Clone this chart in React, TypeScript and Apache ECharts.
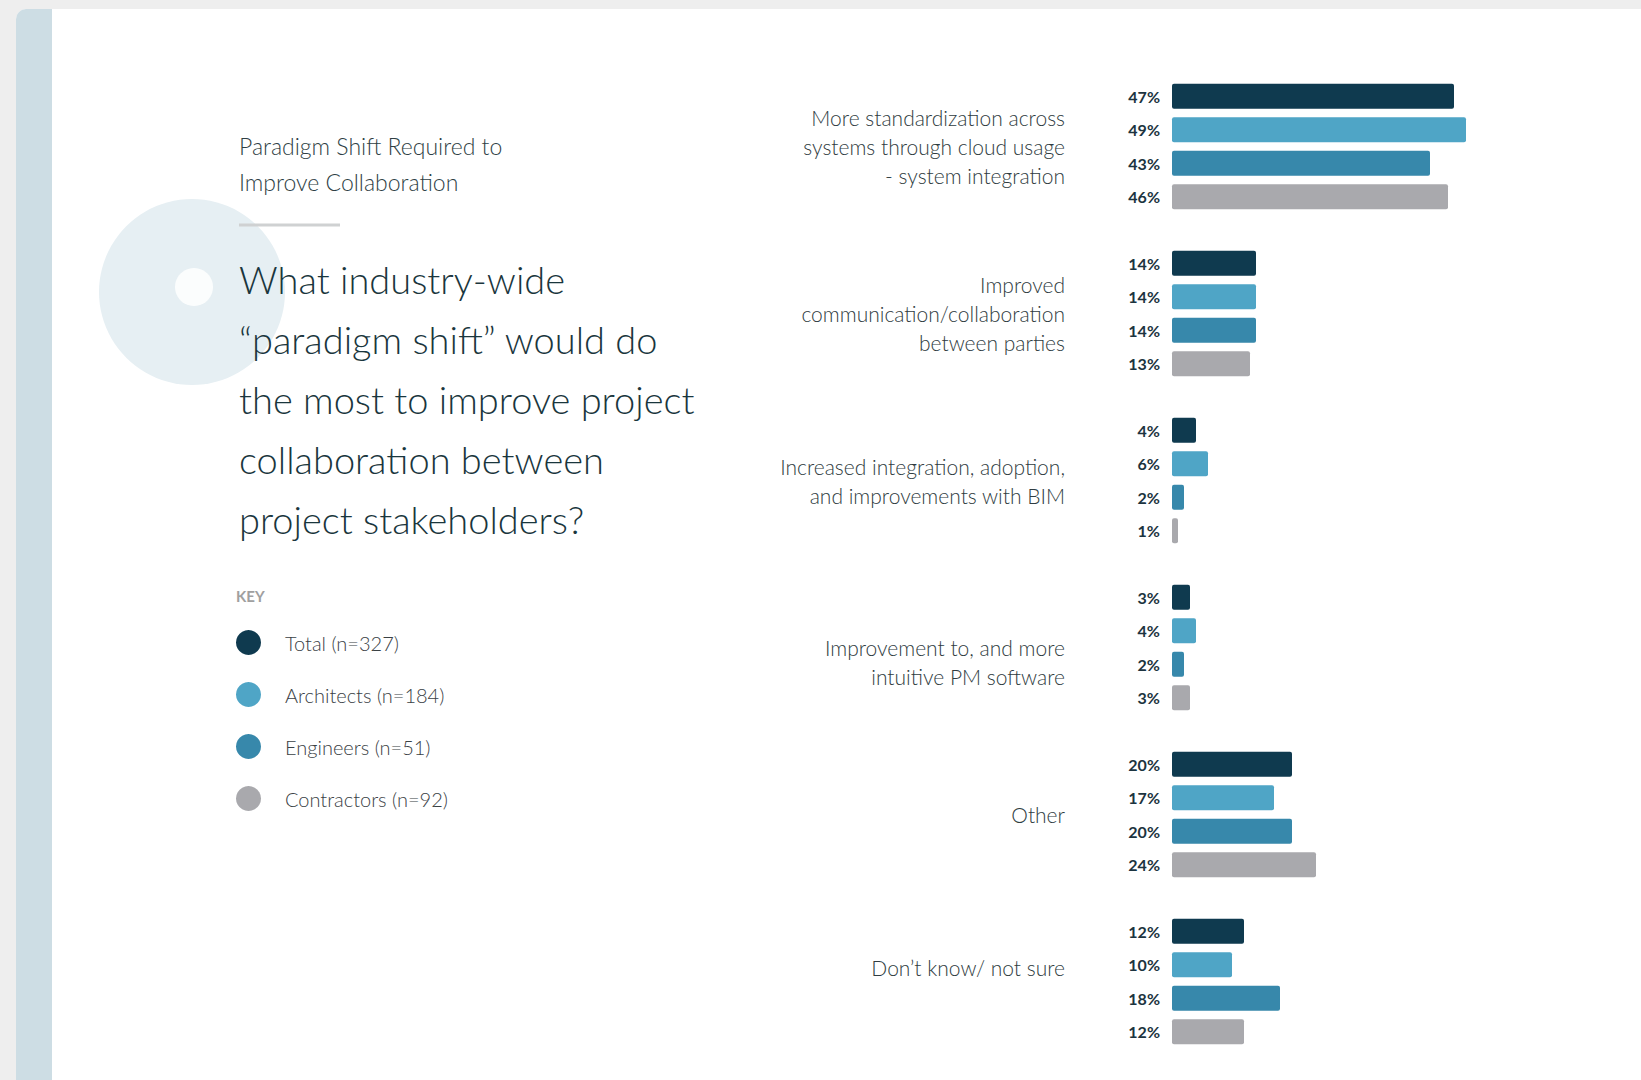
import React, { useEffect, useRef } from "react";
import * as echarts from "echarts";

const categories = [
  "More standardization across\nsystems through cloud usage\n- system integration",
  "Improved\ncommunication/collaboration\nbetween parties",
  "Increased integration, adoption,\nand improvements with BIM",
  "Improvement to, and more\nintuitive PM software",
  "Other",
  "Don’t know/ not sure",
];

const seriesNames = [
  "Total (n=327)",
  "Architects (n=184)",
  "Engineers (n=51)",
  "Contractors (n=92)",
];

const totalValues = [47, 14, 4, 3, 20, 12];
const architectValues = [49, 14, 6, 4, 17, 10];
const engineerValues = [43, 14, 2, 2, 20, 18];
const contractorValues = [46, 13, 1, 3, 24, 12];

const seriesColors = ["#0f3a4f", "#4fa5c6", "#3788ab", "#a9a9ad"];

const subtitleText = "Paradigm Shift Required to\nImprove Collaboration";
const questionText =
  "What industry-wide\n“paradigm shift” would do\nthe most to improve project\ncollaboration between\nproject stakeholders?";

const FONT = "Lato, 'Open Sans', sans-serif";

export default function App() {
  const ref = useRef<HTMLDivElement>(null);

  useEffect(() => {
    if (!ref.current) return;
    const chart = echarts.init(ref.current, undefined, { renderer: "svg" });
    const allValues = [totalValues, architectValues, engineerValues, contractorValues];

    chart.setOption({
      animation: false,
      backgroundColor: "#eeeeee",
      textStyle: { fontFamily: FONT },
      graphic: [
        {
          type: "rect",
          z: -10,
          shape: { x: 16, y: 9, width: 1700, height: 1200, r: 10 },
          style: { fill: "#ffffff" },
        },
        {
          type: "rect",
          z: -9,
          shape: { x: 16, y: 9, width: 36, height: 1200, r: [10, 0, 0, 0] },
          style: { fill: "#cddde4" },
        },
        {
          type: "circle",
          z: -8,
          shape: { cx: 192, cy: 292, r: 93 },
          style: { fill: "#e6eff3" },
        },
        {
          type: "circle",
          z: -7,
          shape: { cx: 194, cy: 287, r: 19 },
          style: { fill: "#fbfdfd" },
        },
        {
          type: "text",
          z: 5,
          x: 239,
          y: 128,
          style: {
            text: subtitleText,
            fontFamily: FONT,
            fontSize: 23,
            fontWeight: 300,
            lineHeight: 36,
            fill: "#2f3f45",
            verticalAlign: "top",
          },
        },
        {
          type: "line",
          z: 5,
          shape: { x1: 239, y1: 225, x2: 340, y2: 225 },
          style: { stroke: "#cfd1d2", lineWidth: 3 },
        },
        {
          type: "text",
          z: 5,
          x: 239,
          y: 249,
          style: {
            text: questionText,
            fontFamily: FONT,
            fontSize: 38,
            fontWeight: 300,
            lineHeight: 60,
            fill: "#1a363d",
            verticalAlign: "top",
          },
        },
        {
          type: "text",
          z: 5,
          x: 236,
          y: 596,
          style: {
            text: "KEY",
            fontFamily: FONT,
            fontSize: 15,
            fontWeight: "bold",
            fill: "#a0a0a0",
            verticalAlign: "middle",
          },
        },
      ],
      legend: {
        orient: "vertical",
        left: 231,
        top: 625,
        icon: "circle",
        itemWidth: 25,
        itemHeight: 25,
        itemGap: 27,
        selectedMode: false,
        data: seriesNames,
        textStyle: {
          fontFamily: FONT,
          fontSize: 20,
          fontWeight: 300,
          color: "#3a4145",
          padding: [0, 0, 0, 19],
        },
      },
      grid: { left: 1172, top: 63, width: 300, height: 1002, containLabel: false },
      xAxis: {
        type: "value",
        min: 0,
        max: 50,
        show: false,
      },
      yAxis: {
        type: "category",
        inverse: true,
        data: categories,
        axisLine: { show: false },
        axisTick: { show: false },
        splitLine: { show: false },
        axisLabel: {
          margin: 107,
          align: "right",
          fontFamily: FONT,
          fontSize: 21,
          fontWeight: 300,
          lineHeight: 29,
          color: "#2f3c41",
          formatter: (value: string, index: number) =>
            index === 3 ? "\n" + value : index === 5 ? value + "\n" : value,
        },
      },
      series: seriesNames.map((name, i) => ({
        name,
        type: "bar",
        data: allValues[i],
        barWidth: 25,
        barGap: "34%",
        itemStyle: { color: seriesColors[i], borderRadius: 2 },
        label: {
          show: true,
          position: "left",
          distance: 12,
          formatter: "{c}%",
          fontFamily: FONT,
          fontSize: 16,
          fontWeight: "bold",
          color: "#1c3440",
        },
      })),
    });

    return () => chart.dispose();
  }, []);

  return (
    <div
      ref={ref}
      style={{ position: "fixed", left: 0, top: 0, width: 1641, height: 1080 }}
    />
  );
}
